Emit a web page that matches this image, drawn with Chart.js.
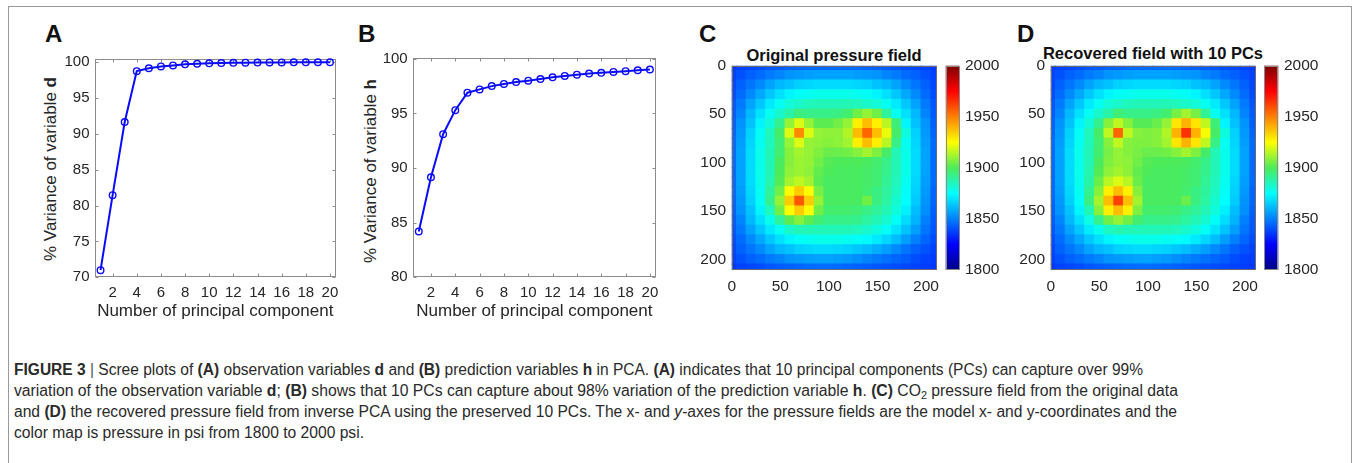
<!DOCTYPE html>
<html>
<head>
<meta charset="utf-8">
<script src="https://cdn.jsdelivr.net/npm/chart.js@4.4.0/dist/chart.umd.min.js"></script>
<style>
html,body{margin:0;padding:0;background:#fff;width:1354px;height:463px;overflow:hidden;font-family:"Liberation Sans",Arial,sans-serif;}
canvas{position:absolute;}
.frame{position:absolute;left:8px;top:6px;width:1344px;height:480px;border:1px solid #9a9a9a;box-sizing:border-box;}
.plabel{position:absolute;font-weight:bold;font-size:24px;line-height:24px;color:#111;}
.ptitle{position:absolute;font-weight:bold;font-size:16.5px;line-height:20px;color:#111;text-align:center;width:320px;white-space:nowrap;}
.ytitle{position:absolute;white-space:nowrap;font-size:17px;line-height:20px;color:#262626;transform:translate(-50%,-50%) rotate(-90deg);}
.cap{position:absolute;left:14px;display:inline-block;white-space:nowrap;font-family:"Liberation Sans Narrow","Liberation Sans",Arial,sans-serif;font-size:16px;line-height:21px;color:#2a2a2a;transform-origin:0 0;}
.cap sub{font-size:11px;line-height:0;vertical-align:-3px;}
.cap .sep{color:#555;font-weight:300;}
</style>
</head>
<body>
<div class="frame"></div>

<div class="plabel" style="left:45px;top:22px;">A</div>
<div class="plabel" style="left:358px;top:22px;">B</div>
<div class="plabel" style="left:699px;top:22px;">C</div>
<div class="plabel" style="left:1017px;top:22px;">D</div>

<div class="ytitle" style="left:51px;top:169px;">% Variance of variable <b>d</b></div>
<div class="ytitle" style="left:371px;top:171px;">% Variance of variable <b>h</b></div>

<div class="ptitle" style="left:674px;top:44.5px;">Original pressure field</div>
<div class="ptitle" style="left:993px;top:43px;">Recovered field with 10 PCs</div>

<canvas id="chartA" width="305" height="275" style="left:40px;top:50px;"></canvas>
<canvas id="chartB" width="305" height="275" style="left:360px;top:50px;"></canvas>
<canvas id="chartC" width="250" height="260" style="left:695px;top:50px;"></canvas>
<canvas id="cbarC" width="75" height="240" style="left:940px;top:50px;"></canvas>
<canvas id="chartD" width="250" height="260" style="left:1014px;top:50px;"></canvas>
<canvas id="cbarD" width="75" height="240" style="left:1258px;top:50px;"></canvas>

<div class="cap" data-w="1129" style="top:358.5px;"><b>FIGURE 3</b> <span class="sep">|</span> Scree plots of <b>(A)</b> observation variables <b>d</b> and <b>(B)</b> prediction variables <b>h</b> in PCA. <b>(A)</b> indicates that 10 principal components (PCs) can capture over 99%</div>
<div class="cap" data-w="1164" style="top:379.5px;">variation of the observation variable <b>d</b>; <b>(B)</b> shows that 10 PCs can capture about 98% variation of the prediction variable <b>h</b>. <b>(C)</b> CO<sub>2</sub> pressure field from the original data</div>
<div class="cap" data-w="1163" style="top:400.5px;">and <b>(D)</b> the recovered pressure field from inverse PCA using the preserved 10 PCs. The x- and <i>y</i>-axes for the pressure fields are the model x- and y-coordinates and the</div>
<div class="cap" data-w="350" style="top:421.5px;">color map is pressure in psi from 1800 to 2000 psi.</div>

<script>
// ---------- data ----------
const components = [1,2,3,4,5,6,7,8,9,10,11,12,13,14,15,16,17,18,19,20];
const varianceD = [71.0,81.45,91.65,98.75,99.15,99.4,99.55,99.7,99.78,99.84,99.88,99.91,99.93,99.95,99.96,99.97,99.98,99.98,99.99,99.99];
const varianceH = [84.2,89.15,93.1,95.3,96.9,97.2,97.5,97.7,97.87,98.0,98.15,98.3,98.43,98.55,98.65,98.72,98.8,98.87,98.95,99.02];
const pcTicks = [2,4,6,8,10,12,14,16,18,20];
const varDTicks = [70,75,80,85,90,95,100];
const varHTicks = [80,85,90,95,100];

const gridX = [0,10,20,30,40,50,60,70,80,90,100,110,120,130,140,150,160,170,180,190,200,210];
const gridY = [0,10,20,30,40,50,60,70,80,90,100,110,120,130,140,150,160,170,180,190,200,210];
const coordTicks = [0,50,100,150,200];
const pressureTicks = [1800,1850,1900,1950,2000];

// pressure (psi), rows = y (top to bottom), columns = x
const pressureOriginal = [
[1836,1838,1839,1840,1842,1843,1844,1845,1846,1846,1846,1846,1846,1846,1845,1844,1843,1842,1840,1839,1838,1836],
[1838,1841,1844,1846,1849,1851,1854,1855,1856,1857,1857,1857,1857,1856,1855,1854,1851,1849,1846,1844,1841,1838],
[1839,1844,1848,1852,1857,1861,1863,1866,1867,1868,1868,1868,1868,1867,1866,1863,1861,1857,1852,1848,1844,1839],
[1840,1846,1852,1858,1864,1869,1873,1876,1877,1878,1878,1878,1878,1877,1876,1873,1869,1864,1858,1852,1846,1840],
[1842,1849,1857,1864,1871,1877,1881,1883,1885,1886,1886,1886,1886,1885,1883,1881,1877,1871,1864,1857,1849,1842],
[1843,1851,1861,1869,1877,1883,1888,1895,1893,1893,1893,1894,1897,1905,1910,1905,1890,1877,1869,1861,1851,1843],
[1844,1854,1863,1873,1881,1892,1910,1920,1910,1902,1902,1905,1910,1928,1938,1928,1915,1895,1873,1863,1854,1844],
[1845,1855,1866,1876,1885,1898,1920,1948,1920,1910,1909,1909,1914,1938,1955,1938,1922,1898,1880,1866,1855,1845],
[1846,1856,1867,1877,1885,1896,1910,1920,1910,1909,1908,1909,1912,1928,1938,1928,1915,1893,1877,1867,1856,1846],
[1846,1857,1868,1878,1886,1897,1908,1912,1910,1907,1904,1904,1905,1908,1912,1907,1898,1886,1878,1868,1857,1846],
[1846,1857,1868,1878,1886,1899,1908,1911,1910,1905,1901,1900,1900,1900,1899,1897,1893,1886,1878,1868,1857,1846],
[1846,1857,1868,1878,1886,1900,1909,1911,1909,1903,1900,1899,1899,1899,1898,1896,1892,1886,1878,1868,1857,1846],
[1846,1857,1868,1878,1887,1901,1912,1916,1912,1902,1899,1899,1899,1899,1898,1896,1891,1885,1877,1867,1856,1846],
[1846,1856,1867,1877,1890,1905,1925,1935,1925,1906,1899,1899,1899,1899,1897,1894,1890,1884,1876,1866,1855,1845],
[1845,1855,1866,1876,1892,1910,1935,1958,1935,1910,1899,1899,1899,1899,1905,1894,1889,1882,1875,1865,1854,1845],
[1844,1854,1863,1873,1885,1905,1925,1935,1925,1905,1897,1897,1897,1896,1893,1890,1886,1880,1872,1862,1853,1844],
[1843,1851,1861,1869,1878,1890,1902,1908,1902,1896,1893,1893,1893,1892,1889,1886,1882,1876,1868,1860,1850,1843],
[1842,1849,1857,1864,1871,1877,1883,1886,1886,1886,1886,1886,1886,1885,1883,1880,1876,1870,1863,1856,1848,1842],
[1840,1846,1852,1858,1864,1869,1873,1876,1877,1878,1878,1878,1877,1876,1874,1871,1867,1862,1856,1850,1845,1840],
[1839,1844,1848,1852,1857,1861,1863,1866,1867,1868,1868,1867,1866,1864,1862,1859,1856,1852,1848,1844,1841,1838],
[1838,1841,1844,1846,1849,1851,1854,1855,1856,1857,1857,1856,1855,1853,1851,1849,1847,1845,1843,1840,1838,1837],
[1836,1838,1839,1840,1842,1843,1844,1845,1846,1846,1846,1846,1845,1844,1843,1842,1841,1840,1839,1838,1837,1836]
];

const pressureRecovered = [
[1836,1838,1839,1840,1842,1843,1844,1845,1846,1846,1846,1846,1846,1846,1845,1844,1843,1842,1840,1839,1838,1836],
[1838,1841,1844,1846,1849,1851,1854,1855,1856,1857,1857,1857,1857,1856,1855,1854,1851,1849,1846,1844,1841,1838],
[1839,1844,1848,1852,1857,1861,1863,1866,1867,1868,1868,1868,1868,1867,1866,1863,1861,1857,1852,1848,1844,1839],
[1840,1846,1852,1858,1864,1869,1873,1876,1877,1878,1878,1878,1878,1877,1876,1873,1869,1864,1858,1852,1846,1840],
[1842,1849,1857,1864,1871,1877,1881,1883,1885,1886,1886,1886,1886,1885,1883,1881,1877,1871,1864,1857,1849,1842],
[1843,1851,1861,1869,1877,1883,1888,1896,1893,1893,1893,1894,1897,1906,1912,1906,1891,1877,1869,1861,1851,1843],
[1844,1854,1863,1873,1881,1892,1908,1916,1908,1901,1901,1904,1910,1930,1940,1930,1916,1895,1873,1863,1854,1844],
[1845,1855,1866,1876,1885,1898,1916,1955,1916,1908,1907,1908,1914,1940,1965,1940,1924,1898,1880,1866,1855,1845],
[1846,1856,1867,1877,1885,1896,1908,1916,1908,1907,1907,1908,1912,1930,1940,1930,1916,1893,1877,1867,1856,1846],
[1846,1857,1868,1878,1886,1897,1906,1910,1908,1906,1904,1904,1905,1908,1912,1907,1898,1886,1878,1868,1857,1846],
[1846,1857,1868,1878,1886,1899,1907,1910,1909,1905,1901,1900,1900,1900,1899,1897,1893,1886,1878,1868,1857,1846],
[1846,1857,1868,1878,1887,1901,1909,1912,1909,1903,1900,1899,1899,1899,1898,1896,1892,1886,1878,1868,1857,1846],
[1846,1857,1868,1878,1888,1904,1915,1920,1915,1904,1899,1899,1899,1899,1898,1896,1891,1885,1877,1867,1856,1846],
[1846,1856,1867,1877,1891,1908,1928,1938,1928,1908,1899,1899,1899,1899,1897,1894,1890,1884,1876,1866,1855,1845],
[1845,1855,1866,1876,1894,1912,1938,1962,1938,1912,1899,1899,1899,1899,1904,1894,1889,1882,1875,1865,1854,1845],
[1844,1854,1863,1873,1886,1908,1928,1938,1928,1907,1897,1897,1897,1896,1893,1890,1886,1880,1872,1862,1853,1844],
[1843,1851,1861,1869,1879,1892,1905,1910,1905,1897,1893,1893,1893,1892,1889,1886,1882,1876,1868,1860,1850,1843],
[1842,1849,1857,1864,1871,1878,1884,1887,1886,1886,1886,1886,1886,1885,1883,1880,1876,1870,1863,1856,1848,1842],
[1840,1846,1852,1858,1864,1869,1873,1876,1877,1878,1878,1878,1877,1876,1874,1871,1867,1862,1856,1850,1845,1840],
[1839,1844,1848,1852,1857,1861,1863,1866,1867,1868,1868,1867,1866,1864,1862,1859,1856,1852,1848,1844,1841,1838],
[1838,1841,1844,1846,1849,1851,1854,1855,1856,1857,1857,1856,1855,1853,1851,1849,1847,1845,1843,1840,1838,1837],
[1836,1838,1839,1840,1842,1843,1844,1845,1846,1846,1846,1846,1845,1844,1843,1842,1841,1840,1839,1838,1837,1836]
];

// ---------- styling helpers ----------
Chart.defaults.font.family = '"Liberation Sans", Arial, sans-serif';
Chart.defaults.color = '#262626';
const CELL = 10;
const PMIN = 1800, PMAX = 2000;
// jet-like colour map (as printed in the figure's colour bar)
const cmapStops = [
  [0.000, [0.00, 0.00, 0.53]],
  [0.125, [0.00, 0.00, 1.00]],
  [0.250, [0.00, 0.50, 1.00]],
  [0.375, [0.00, 1.00, 1.00]],
  [0.500, [0.30, 0.92, 0.35]],
  [0.625, [1.00, 1.00, 0.00]],
  [0.875, [1.00, 0.00, 0.00]],
  [1.000, [0.50, 0.00, 0.00]]
];
function cmapRGB(t){
  t = Math.max(0, Math.min(1, t));
  for (let k = 1; k < cmapStops.length; k++) {
    const [t1, c1] = cmapStops[k];
    const [t0, c0] = cmapStops[k-1];
    if (t <= t1) {
      const f = (t - t0) / (t1 - t0);
      return [0,1,2].map(n => c0[n] + (c1[n] - c0[n]) * f);
    }
  }
  return cmapStops[cmapStops.length-1][1];
}
function rgbStr(c){ return 'rgb(' + Math.round(c[0]*255) + ',' + Math.round(c[1]*255) + ',' + Math.round(c[2]*255) + ')'; }
function pressureColor(p){ return rgbStr(cmapRGB((p-PMIN)/(PMAX-PMIN))); }
const plainLabel = v => String(v);

const matlabBox = {
  id: 'matlabBox',
  beforeDatasetsDraw(chart){
    const {ctx, chartArea: a, scales} = chart;
    const x = scales.x, y = scales.y;
    ctx.save();
    ctx.strokeStyle = '#8c8c8c';
    ctx.lineWidth = 1;
    const L = Math.round(a.left) + 0.5, T = Math.round(a.top) + 0.5, R = Math.round(a.right) - 0.5, B = Math.round(a.bottom) - 0.5;
    ctx.strokeRect(L, T, R - L, B - T);
    ctx.beginPath();
    x.ticks.forEach(t => {
      const p = Math.round(x.getPixelForValue(t.value)) + 0.5;
      ctx.moveTo(p, B); ctx.lineTo(p, B - 3);
      ctx.moveTo(p, T); ctx.lineTo(p, T + 3);
    });
    y.ticks.forEach(t => {
      const p = Math.round(y.getPixelForValue(t.value)) + 0.5;
      ctx.moveTo(L, p); ctx.lineTo(L + 3, p);
      ctx.moveTo(R, p); ctx.lineTo(R - 3, p);
    });
    ctx.stroke();
    ctx.restore();
  }
};

const fieldFrame = {
  id: 'fieldFrame',
  afterDatasetsDraw(chart){
    const {ctx, chartArea: a} = chart;
    ctx.save();
    ctx.strokeStyle = '#6a6a6a';
    ctx.lineWidth = 1;
    ctx.strokeRect(Math.round(a.left) + 0.5, Math.round(a.top) + 0.5, Math.round(a.right - a.left) - 1, Math.round(a.bottom - a.top) - 1);
    ctx.restore();
  }
};

const colorbarFill = {
  id: 'colorbarFill',
  beforeDatasetsDraw(chart){
    const {ctx, chartArea: a} = chart;
    const g = ctx.createLinearGradient(0, a.bottom, 0, a.top);
    cmapStops.forEach(([s, c]) => g.addColorStop(s, rgbStr(c)));
    ctx.save();
    ctx.fillStyle = g;
    ctx.fillRect(a.left, a.top, a.right - a.left, a.bottom - a.top);
    ctx.strokeStyle = '#8a8a8a';
    ctx.lineWidth = 1;
    ctx.strokeRect(Math.round(a.left) + 0.5, Math.round(a.top) + 0.5, Math.round(a.right - a.left) - 1, Math.round(a.bottom - a.top) - 1);
    ctx.restore();
  }
};

function setTicks(list){ return s => { s.ticks = list.map(v => ({value: v})); }; }

// ---------- scree plots ----------
function screeChart(id, values, yTicks, yMin, yMax, yWidth, padTop){
  return new Chart(document.getElementById(id), {
    type: 'scatter',
    data: { datasets: [{
      data: components.map((c, i) => ({x: c, y: values[i]})),
      showLine: true,
      borderColor: '#0a0aff',
      borderWidth: 2,
      pointRadius: 3.3,
      pointBorderWidth: 1.4,
      pointBorderColor: '#0a0aff',
      pointBackgroundColor: 'rgba(255,255,255,0)',
      clip: false
    }]},
    options: {
      responsive: false, animation: false,
      layout: { padding: { left: 0, top: padTop, right: 9, bottom: 0 } },
      plugins: { legend: {display: false}, tooltip: {enabled: false} },
      scales: {
        x: {
          type: 'linear', min: 0.5, max: 20.5,
          grid: {display: false, drawTicks: false}, border: {display: false},
          afterBuildTicks: setTicks(pcTicks),
          afterFit: s => { s.height = 47.7; s.paddingLeft = 0; s.paddingRight = 0; },
          ticks: {font: {size: 15}, padding: 7, maxRotation: 0, autoSkip: false, color: '#262626', callback: plainLabel},
          title: {display: true, text: 'Number of principal component', font: {size: 17}, color: '#262626', padding: {top: 0, bottom: 3}}
        },
        y: {
          type: 'linear', min: yMin, max: yMax,
          grid: {display: false, drawTicks: false}, border: {display: false},
          afterBuildTicks: setTicks(yTicks),
          afterFit: s => { s.width = yWidth; s.paddingTop = 0; s.paddingBottom = 0; },
          ticks: {font: {size: 15}, padding: 5, color: '#262626', callback: plainLabel}
        }
      }
    },
    plugins: [matlabBox]
  });
}

screeChart('chartA', varianceD, varDTicks, 70, 100.4, 54.5, 9.3);
screeChart('chartB', varianceH, varHTicks, 80, 100.1, 52.7, 7.7);

// ---------- pressure fields ----------
function fieldChart(id, field){
  const cells = [];
  field.forEach((row, j) => row.forEach((p, i) => {
    cells.push({x: gridX[i], y: [gridY[j] - CELL/2, gridY[j] + CELL/2], p: p});
  }));
  return new Chart(document.getElementById(id), {
    type: 'bar',
    data: { datasets: [{
      data: cells,
      backgroundColor: cells.map(c => pressureColor(c.p)),
      borderWidth: 0,
      barPercentage: 1,
      categoryPercentage: 1,
      inflateAmount: 0.6,
      clip: 0
    }]},
    options: {
      responsive: false, animation: false,
      layout: { padding: { left: 0, top: 15.7, right: 8.3, bottom: 0 } },
      plugins: { legend: {display: false}, tooltip: {enabled: false} },
      scales: {
        x: {
          type: 'linear', min: 0, max: 211, offset: false,
          grid: {display: false, drawTicks: false, offset: false}, border: {display: false},
          afterBuildTicks: setTicks(coordTicks),
          afterFit: s => { s.height = 40; s.paddingLeft = 0; s.paddingRight = 0; },
          ticks: {font: {size: 15.5}, padding: 7, maxRotation: 0, autoSkip: false, color: '#262626', callback: plainLabel}
        },
        y: {
          type: 'linear', min: 0, max: 211, reverse: true,
          grid: {display: false, drawTicks: false}, border: {display: false},
          afterBuildTicks: setTicks(coordTicks),
          afterFit: s => { s.width = 36.7; s.paddingTop = 0; s.paddingBottom = 0; },
          ticks: {font: {size: 15.5}, padding: 5.5, color: '#262626', callback: plainLabel}
        }
      }
    },
    plugins: [fieldFrame]
  });
}

function colorbarChart(id, padLeft, axisWidth){
  return new Chart(document.getElementById(id), {
    type: 'scatter',
    data: { datasets: [] },
    options: {
      responsive: false, animation: false,
      layout: { padding: { left: padLeft, top: 15.7, right: 0, bottom: 20 } },
      plugins: { legend: {display: false}, tooltip: {enabled: false} },
      scales: {
        x: { type: 'linear', min: 0, max: 1, display: false },
        y: {
          type: 'linear', position: 'right', min: PMIN, max: PMAX,
          grid: {display: false, drawTicks: false}, border: {display: false},
          afterBuildTicks: setTicks(pressureTicks),
          afterFit: s => { s.width = axisWidth; s.paddingTop = 0; s.paddingBottom = 0; },
          ticks: {font: {size: 15.5}, padding: 5.7, color: '#262626', callback: plainLabel}
        }
      }
    },
    plugins: [colorbarFill]
  });
}

fieldChart('chartC', pressureOriginal);
fieldChart('chartD', pressureRecovered);
colorbarChart('cbarC', 5.7, 55.7);
colorbarChart('cbarD', 6, 54.7);

// ---------- caption width fitting ----------
document.querySelectorAll('.cap').forEach(el => {
  const target = parseFloat(el.getAttribute('data-w'));
  const w = el.getBoundingClientRect().width;
  if (w > 0) el.style.transform = 'scaleX(' + (target / w) + ')';
});
</script>
</body>
</html>
